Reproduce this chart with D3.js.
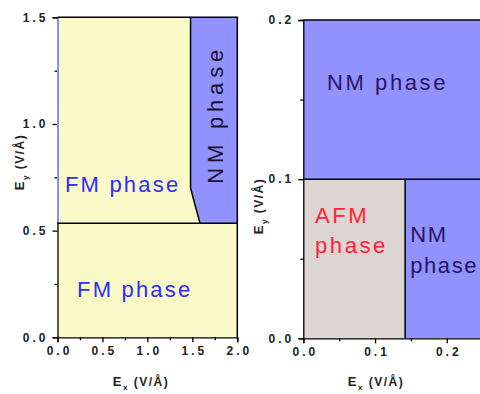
<!DOCTYPE html>
<html><head><meta charset="utf-8">
<script src="https://cdn.jsdelivr.net/npm/d3@7"></script>
<style>
html,body{margin:0;padding:0;background:#fff;}
svg{display:block;font-family:Arial,"Liberation Sans",sans-serif;}
</style></head>
<body><svg id="c" width="480" height="394"></svg>
<script>
// ---- data ----
const leftXTicks = [0, 0.5, 1.0, 1.5, 2.0];
const leftXMinor = [0.25, 0.75, 1.25, 1.75];
const leftYTicks = [0, 0.5, 1.0, 1.5];
const leftYMinor = [0.25, 0.75, 1.25];
const rightXTicks = [0, 0.1, 0.2];
const rightXMinor = [0.05, 0.15];
const rightYTicks = [0, 0.1, 0.2];
const rightYMinor = [0.05, 0.15];
// FM / NM boundary (left panel)
const boundaryEx = [1.48, 1.48, 1.53, 1.585];
const boundaryEy = [1.5, 0.70, 0.62, 0.535];
const lowerFMLimitEy = 0.535;
// AFM region (right panel)
const afmExMax = 0.142;
const afmEyMax = 0.1;

const C_FM = "#fafac8", C_NM = "#9292ff", C_AFM = "#dcd5d0";

const svg = d3.select("#c");

function axes(g, x, y, xt, xm, yt, ym, xfmt, yfmt) {
  const tickFont = g => g.selectAll("text").attr("font-size", 12).attr("font-weight", "bold")
      .attr("fill", "#222").style("letter-spacing", "3px");
  const xa = g.append("g").attr("transform", `translate(0,${y.range()[0]})`)
    .call(d3.axisBottom(x).tickValues(xt).tickSize(5).tickPadding(4).tickFormat(xfmt));
  xa.call(tickFont);
  xa.selectAll("path,line").attr("stroke", "#000").attr("stroke-width", 1.3);
  xa.selectAll("text").attr("dx", "1.5px");
  const xm2 = g.append("g").attr("transform", `translate(0,${y.range()[0]})`)
    .call(d3.axisBottom(x).tickValues(xm).tickSize(3).tickFormat(""));
  xm2.select(".domain").remove();
  xm2.selectAll("line").attr("stroke", "#000").attr("stroke-width", 1.3);
  const ya = g.append("g").attr("transform", `translate(${x.range()[0]},0)`)
    .call(d3.axisLeft(y).tickValues(yt).tickSize(5).tickPadding(4).tickFormat(yfmt));
  ya.call(tickFont);
  ya.selectAll("path,line").attr("stroke", "#000").attr("stroke-width", 1.3);
  const ym2 = g.append("g").attr("transform", `translate(${x.range()[0]},0)`)
    .call(d3.axisLeft(y).tickValues(ym).tickSize(3).tickFormat(""));
  ym2.select(".domain").remove();
  ym2.selectAll("line").attr("stroke", "#000").attr("stroke-width", 1.3);
}

function label(g, px, py, lines, color, opts = {}) {
  const t = g.append("text").attr("x", px).attr("y", py)
    .attr("font-size", opts.size || 22).attr("fill", color)
    .style("letter-spacing", (opts.ls || 2.6) + "px");
  if (opts.rotate) t.attr("transform", `rotate(-90,${px},${py})`).attr("text-anchor", "middle");
  lines.forEach((s, i) => t.append("tspan").attr("x", px).attr("dy", i === 0 ? 0 : opts.lh || 30).text(s));
}

function axisTitle(g, px, py, sub, rotate) {
  const t = g.append("text").attr("x", px).attr("y", py).attr("text-anchor", "middle")
    .attr("font-size", 12).attr("font-weight", "bold").attr("fill", "#222")
    .style("letter-spacing", "1.5px");
  if (rotate) t.attr("transform", `rotate(-90,${px},${py})`);
  t.append("tspan").text("E").attr("font-size", 13);
  t.append("tspan").text(sub).attr("font-size", 8).attr("dy", 4);
  t.append("tspan").text(" (V/Å)").attr("dy", -4);
}

// ---- left panel ----
{
  const x = d3.scaleLinear().domain([0, 2]).range([57.5, 237.3]);
  const y = d3.scaleLinear().domain([0, 1.5]).range([337.3, 17.3]);
  const g = svg.append("g");
  g.append("rect").attr("x", x(0)).attr("y", y(1.5)).attr("width", x(2) - x(0)).attr("height", y(0) - y(1.5)).attr("fill", C_FM);
  const nmPts = boundaryEx.map((d, i) => [d, boundaryEy[i]]).concat([[2, lowerFMLimitEy], [2, 1.5]]);
  const line = d3.line().x(d => x(d[0])).y(d => y(d[1]));
  g.append("path").attr("d", line(nmPts) + "Z").attr("fill", C_NM);
  g.append("path").attr("d", line(boundaryEx.map((d, i) => [d, boundaryEy[i]])))
    .attr("fill", "none").attr("stroke", "#000").attr("stroke-width", 1.5);
  g.append("line").attr("x1", x(0)).attr("x2", x(2)).attr("y1", y(lowerFMLimitEy)).attr("y2", y(lowerFMLimitEy))
    .attr("stroke", "#000").attr("stroke-width", 1.5);
  // frame top / right
  g.append("path").attr("d", `M${x(0)},${y(1.5)}H${x(2)}V${y(0)}`).attr("fill", "none").attr("stroke", "#000").attr("stroke-width", 1.5);
  axes(g, x, y, leftXTicks, leftXMinor, leftYTicks, leftYMinor, d3.format(".1f"), d3.format(".1f"));
  // light edge on upper-left
  g.append("line").attr("x1", x(0) + 0.5).attr("x2", x(0) + 0.5).attr("y1", y(1.5) + 1).attr("y2", y(lowerFMLimitEy) - 1)
    .attr("stroke", "#a4a4ff").attr("stroke-width", 1.5);
  label(g, x(0.083), y(0.683), ["FM phase"], "#2d2dff", {ls: 2.2});
  label(g, x(0.217), y(0.19), ["FM phase"], "#2d2dff", {ls: 2.2});
  label(g, x(1.84), y(1.045), ["NM phase"], "#1a1030", {rotate: true, ls: 4.8});
  axisTitle(g, 141, 386, "x", false);
  axisTitle(g, 24, 162, "y", true);
}

// ---- right panel ----
{
  const x = d3.scaleLinear().domain([0, 0.25]).range([303.3, 482.6]);
  const y = d3.scaleLinear().domain([0, 0.2]).range([338.3, 20]);
  const g = svg.append("g");
  g.append("rect").attr("x", x(0)).attr("y", y(0.2)).attr("width", x(0.25) - x(0)).attr("height", y(0) - y(0.2)).attr("fill", C_NM);
  g.append("rect").attr("x", x(0)).attr("y", y(afmEyMax)).attr("width", x(afmExMax) - x(0)).attr("height", y(0) - y(afmEyMax)).attr("fill", C_AFM);
  g.append("line").attr("x1", x(0)).attr("x2", x(0.25)).attr("y1", y(afmEyMax)).attr("y2", y(afmEyMax)).attr("stroke", "#000").attr("stroke-width", 1.5);
  g.append("line").attr("x1", x(afmExMax)).attr("x2", x(afmExMax)).attr("y1", y(afmEyMax)).attr("y2", y(0)).attr("stroke", "#000").attr("stroke-width", 1.5);
  g.append("line").attr("x1", x(0)).attr("x2", x(0.25)).attr("y1", y(0.2)).attr("y2", y(0.2)).attr("stroke", "#000").attr("stroke-width", 1.5);
  axes(g, x, y, rightXTicks, rightXMinor, rightYTicks, rightYMinor, d3.format(".1f"), d3.format(".1f"));
  label(g, x(0.033), y(0.156), ["NM phase"], "#2a1560");
  label(g, x(0.0163), y(0.0724), ["AFM", "phase"], "#ff2238", {lh: 30});
  label(g, x(0.149), y(0.0605), ["NM", "phase"], "#2a1560", {lh: 31, ls: 1.6});
  axisTitle(g, 376, 386, "x", false);
  axisTitle(g, 263, 206, "y", true);
}
</script></body></html>
